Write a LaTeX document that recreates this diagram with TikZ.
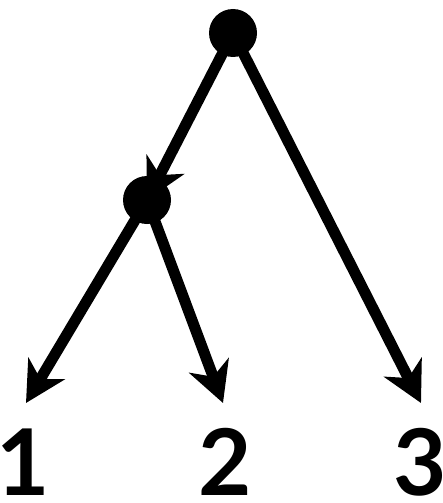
\documentclass[tikz,border=0pt]{standalone}
\usepackage{fontspec}
\setmainfont{Lato}
\usetikzlibrary{arrows.meta}
\tikzset{vert/.style={circle,fill=black,minimum size=48pt,inner sep=0pt},edge/.style={-{Stealth[length=40pt,width=42pt,inset=12pt]},line width=11pt},leaf/.style={font=\fontsize{92}{92}\selectfont\bfseries,inner sep=0pt,anchor=base}}

\begin{document}
\begin{tikzpicture}[x=1pt,y=-1pt]
\useasboundingbox (0,0) rectangle (443,503);
\coordinate (r) at (233,33);\coordinate (a) at (147,200);
\coordinate (t1) at (26,403);\coordinate (t2) at (223,403);\coordinate (t3) at (421,403);
\node[leaf] (l1) at (23,495) {1};\node[leaf] (l2) at (225,495) {2};\node[leaf] (l3) at (420,495) {3};
\draw[edge] (r)--(a);\draw[edge] (r)--(t3);
\draw[edge] (a)--(t1);\draw[edge] (a)--(t2);
\node[vert] (root) at (r) {};\node[vert] (inner) at (a) {};
\end{tikzpicture}
\end{document}
